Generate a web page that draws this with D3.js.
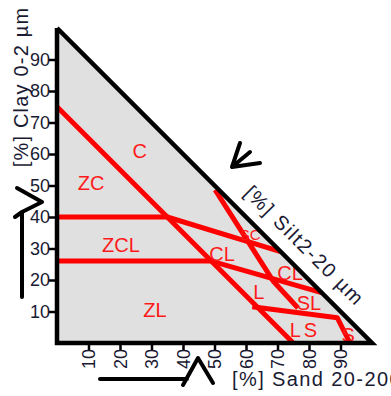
<!DOCTYPE html>
<html><head><meta charset="utf-8">
<script src="https://cdn.jsdelivr.net/npm/d3@7"></script>
<style>body{margin:0;background:#fff}svg{display:block}text{font-family:"Liberation Sans",Arial,sans-serif}</style>
</head><body>
<svg id="c" width="391" height="396"></svg>
<script>
// tick labels
const clayTicks = [10,20,30,40,50,60,70,80,90];
const sandTicks = [10,20,30,40,50,60,70,80,90];
// class boundary lines as [sand %, clay %] vertices
const boundaryLines = [
  [[0,75],[75,0]],
  [[0,40],[35,40],[71,29]],
  [[0,26],[49,26],[84,16]],
  [[50.2,48.6],[68.6,19.7],[76.5,11.1]],
  [[62,11.5],[89,8],[93,0]]
];
// texture class labels at [sand %, clay %]
const classNames = ["C","ZC","ZCL","CL","ZL","L","SL","LS","S","SC","CL"];
const classSand  = [26.3,10.8,20.3,52.4,31.1,64.1,80,78.7,92.4,61.3,74];
const classClay  = [61,50.8,31.1,28.3,10.5,16.2,12.7,4.1,2.5,34.3,22.2];
const axisTitles = ["[%] Clay 0-2 µm","[%] Silt2-20 µm","[%] Sand 20-200"];

const svg = d3.select("#c");
const x = d3.scaleLinear().domain([0,100]).range([57,372]);
const y = d3.scaleLinear().domain([0,100]).range([343,28]);

// triangle background
svg.append("path")
  .attr("d", d3.line()([[x(0),y(0)],[x(0),y(100)],[x(100),y(0)]]) + "Z")
  .attr("fill","#e0e0e0").attr("stroke","none");

// boundaries
const ln = d3.line().x(d=>x(d[0])).y(d=>y(d[1]));
svg.append("g").selectAll("path").data(boundaryLines).join("path")
  .attr("d", ln).attr("fill","none").attr("stroke","#ff0000")
  .attr("stroke-width",5).attr("stroke-linejoin","round");

// class labels
svg.append("g").selectAll("text").data(classNames).join("text")
  .attr("x",(d,i)=>x(classSand[i])).attr("y",(d,i)=>y(classClay[i]))
  .attr("text-anchor","middle").attr("dominant-baseline","central")
  .attr("fill","#ff1a1a").attr("font-size",(d,i)=>i===9?15:20)
  .style("letter-spacing",(d,i)=>i===7?"3px":"0px")
  .text(d=>d);

// triangle outline
svg.append("path")
  .attr("d", d3.line()([[x(0),y(100)],[x(0),y(0)],[x(100),y(0)],[x(0),y(100)]]))
  .attr("fill","none").attr("stroke","#000").attr("stroke-width",4.5)
  .attr("stroke-linejoin","miter");

// axes
const ax = svg.append("g").attr("transform",`translate(${x(0)-2},0)`)
  .call(d3.axisLeft(y).tickValues(clayTicks).tickSize(6).tickPadding(-1));
ax.select(".domain").remove();
ax.selectAll("line").attr("stroke","#000").attr("stroke-width",2.5);
ax.selectAll("text").attr("font-size",18).attr("fill","#1a1a33")
  .style("font-family","'Liberation Sans',Arial,sans-serif");

const bx = svg.append("g").attr("transform",`translate(0,${y(0)+2})`)
  .call(d3.axisBottom(x).tickValues(sandTicks).tickSize(6));
bx.select(".domain").remove();
bx.selectAll("line").attr("stroke","#000").attr("stroke-width",2.5);
bx.selectAll("text").attr("font-size",18).attr("fill","#1a1a33")
  .style("font-family","'Liberation Sans',Arial,sans-serif")
  .attr("transform","rotate(-90)").attr("x",-4).attr("y",0)
  .attr("dy","0.36em").attr("text-anchor","end");

// axis titles
svg.append("text").attr("transform","translate(28,87) rotate(-90)")
  .attr("text-anchor","middle").attr("font-size",20).style("letter-spacing","1.2px")
  .attr("fill","#1a1a33").text(axisTitles[0]);
svg.append("text").attr("transform","translate(243,194) rotate(45)")
  .attr("font-size",20).style("letter-spacing","1.6px")
  .attr("fill","#1a1a33").text(axisTitles[1]);
svg.append("text").attr("x",232).attr("y",386)
  .attr("font-size",20).style("letter-spacing","1.4px")
  .attr("fill","#1a1a33").text(axisTitles[2]);

// hand-drawn arrows
const arrows = svg.append("g").attr("fill","none").attr("stroke","#000")
  .attr("stroke-width",4).attr("stroke-linecap","round").attr("stroke-linejoin","round");
arrows.append("path").attr("d","M22,297 L22,212 L42,202 M17,188 L42,202 M15,217 L22,212");
arrows.append("path").attr("d","M100,379 L187,379 M183,385 L198,358 L213,383");
arrows.append("path").attr("d","M240,143 L232,167 L260,163 M232,167 L250,152");
</script>
</body></html>
